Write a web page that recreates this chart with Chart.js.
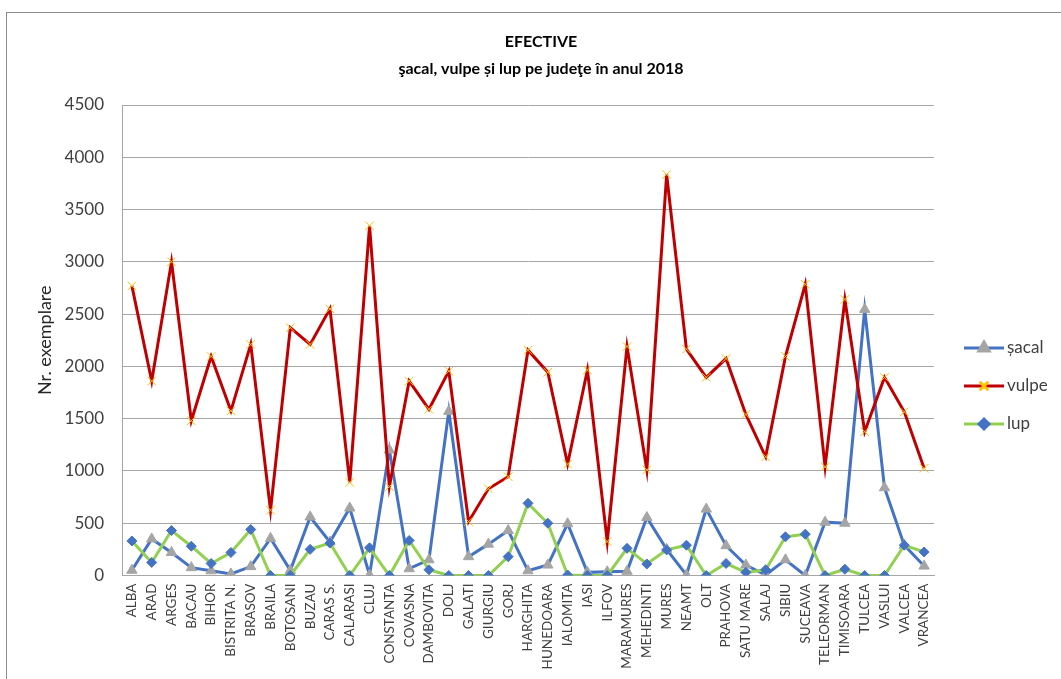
<!DOCTYPE html>
<html>
<head>
<meta charset="utf-8">
<script src="https://cdn.jsdelivr.net/npm/chart.js@4.4.1/dist/chart.umd.min.js"></script>
<style>
  html, body { margin: 0; padding: 0; background: #fff; overflow: hidden; }
  #frame { position: absolute; left: 6px; top: 12px; width: 1100px; height: 720px; border: 1px solid #8c8c8c; box-sizing: border-box; }
  #wrap { position: absolute; left: 0; top: 0; width: 1061px; height: 679px; }
</style>
</head>
<body>
<div id="frame"></div>
<div id="wrap"><canvas id="c" width="1061" height="679"></canvas></div>
<script>
// Counties (judete)
const categories = ['ALBA','ARAD','ARGES','BACAU','BIHOR','BISTRITA N.','BRASOV','BRAILA','BOTOSANI','BUZAU',
  'CARAS S.','CALARASI','CLUJ','CONSTANTA','COVASNA','DAMBOVITA','DOLJ','GALATI','GIURGIU','GORJ',
  'HARGHITA','HUNEDOARA','IALOMITA','IASI','ILFOV','MARAMURES','MEHEDINTI','MURES','NEAMT','OLT',
  'PRAHOVA','SATU MARE','SALAJ','SIBIU','SUCEAVA','TELEORMAN','TIMISOARA','TULCEA','VASLUI','VALCEA','VRANCEA'];

// Population counts, 2018
const sacal = [50,350,220,75,45,15,85,355,50,560,320,645,5,1200,65,150,1570,180,300,430,
  45,100,495,30,35,40,555,250,5,635,285,100,5,150,0,510,500,2545,840,290,90];
const vulpe = [2770,1860,3000,1480,2095,1575,2210,625,2370,2210,2550,890,3345,850,1860,1590,1955,515,830,945,
  2155,1945,1065,1965,325,2190,1010,3835,2165,1895,2075,1540,1135,2095,2785,1040,2640,1375,1895,1565,1025];
const lup = [330,125,430,280,115,220,440,0,0,250,310,0,265,0,335,55,0,0,0,180,
  690,500,5,0,0,260,110,245,290,0,115,30,55,370,395,0,60,0,0,290,225];

const yMin = 0, yMax = 4500, yStep = 500;
const titleLines = ['EFECTIVE', 'şacal, vulpe și lup pe judeţe în anul 2018'];
const yTitle = 'Nr. exemplare';

const FONT = 'Lato, "Open Sans", sans-serif';

const titlePlugin = {
  id: 'twoLineTitle',
  afterDraw(chart) {
    const ctx = chart.ctx;
    ctx.save();
    ctx.fillStyle = '#000';
    ctx.textAlign = 'center';
    ctx.textBaseline = 'middle';
    ctx.font = 'bold 16px ' + FONT;
    ctx.fillText(titleLines[0], 541, 42);
    ctx.fillText(titleLines[1], 541, 69);
    ctx.restore();
  }
};

const legendPlugin = {
  id: 'sideLegend',
  afterDraw(chart) {
    const ctx = chart.ctx;
    const rows = [348, 386, 424];
    chart.data.datasets.forEach((ds, i) => {
      const y = rows[i];
      ctx.save();
      ctx.strokeStyle = ds.borderColor;
      ctx.lineWidth = ds.borderWidth;
      ctx.beginPath();
      ctx.moveTo(964, y);
      ctx.lineTo(1004, y);
      ctx.stroke();
      ctx.fillStyle = ds.pointBackgroundColor;
      ctx.strokeStyle = ds.pointBorderColor;
      Chart.helpers.drawPoint(ctx, {
        pointStyle: ds.pointStyle, rotation: 0,
        radius: ds.pointRadius, borderWidth: ds.pointBorderWidth
      }, 984, y);
      ctx.fillStyle = '#404040';
      ctx.font = '17px ' + FONT;
      ctx.textAlign = 'left';
      ctx.textBaseline = 'middle';
      ctx.fillText(ds.label, 1007, y);
      ctx.restore();
    });
  }
};

new Chart(document.getElementById('c'), {
  type: 'line',
  data: {
    labels: categories,
    datasets: [
      {
        label: 'șacal', data: sacal, order: 3,
        borderColor: '#4472C4', borderWidth: 3,
        pointStyle: 'triangle', pointRadius: 6,
        pointBackgroundColor: '#A5A5A5', pointBorderColor: '#A5A5A5', pointBorderWidth: 1
      },
      {
        label: 'vulpe', data: vulpe, order: 2,
        borderColor: '#C00000', borderWidth: 3,
        pointStyle: 'crossRot', pointRadius: 6,
        pointBackgroundColor: '#FFC000', pointBorderColor: '#FFC000', pointBorderWidth: 1
      },
      {
        label: 'lup', data: lup, order: 1,
        borderColor: '#92D050', borderWidth: 3,
        pointStyle: 'rectRot', pointRadius: 5,
        pointBackgroundColor: '#4472C4', pointBorderColor: '#4472C4', pointBorderWidth: 1
      }
    ]
  },
  options: {
    responsive: false,
    animation: false,
    devicePixelRatio: 1,
    layout: { padding: { left: 0, right: 127, top: 105, bottom: 0 } },
    elements: { line: { tension: 0 } },
    plugins: {
      legend: { display: false },
      title: { display: false },
      tooltip: { enabled: false }
    },
    scales: {
      x: {
        type: 'category',
        offset: true,
        grid: { display: false, drawTicks: false },
        border: { display: true, color: '#a6a6a6', width: 1 },
        ticks: {
          autoSkip: false, minRotation: 90, maxRotation: 90, padding: 8,
          color: '#404040', font: { family: FONT, size: 13.5 }
        },
        afterFit(scale) { scale.height = 103.5; }
      },
      y: {
        min: yMin, max: yMax,
        grid: { color: '#a6a6a6', lineWidth: 1, drawTicks: false },
        border: { display: true, color: '#a6a6a6', width: 1 },
        ticks: {
          stepSize: yStep, padding: 18,
          color: '#404040', font: { family: FONT, size: 17 },
          callback: (v) => String(v)
        },
        title: {
          display: true, text: yTitle, color: '#262626',
          font: { family: FONT, size: 18 },
          padding: { top: 34, bottom: 0 }
        },
        afterFit(scale) { scale.width = 122; }
      }
    }
  },
  plugins: [titlePlugin, legendPlugin]
});
</script>
</body>
</html>
